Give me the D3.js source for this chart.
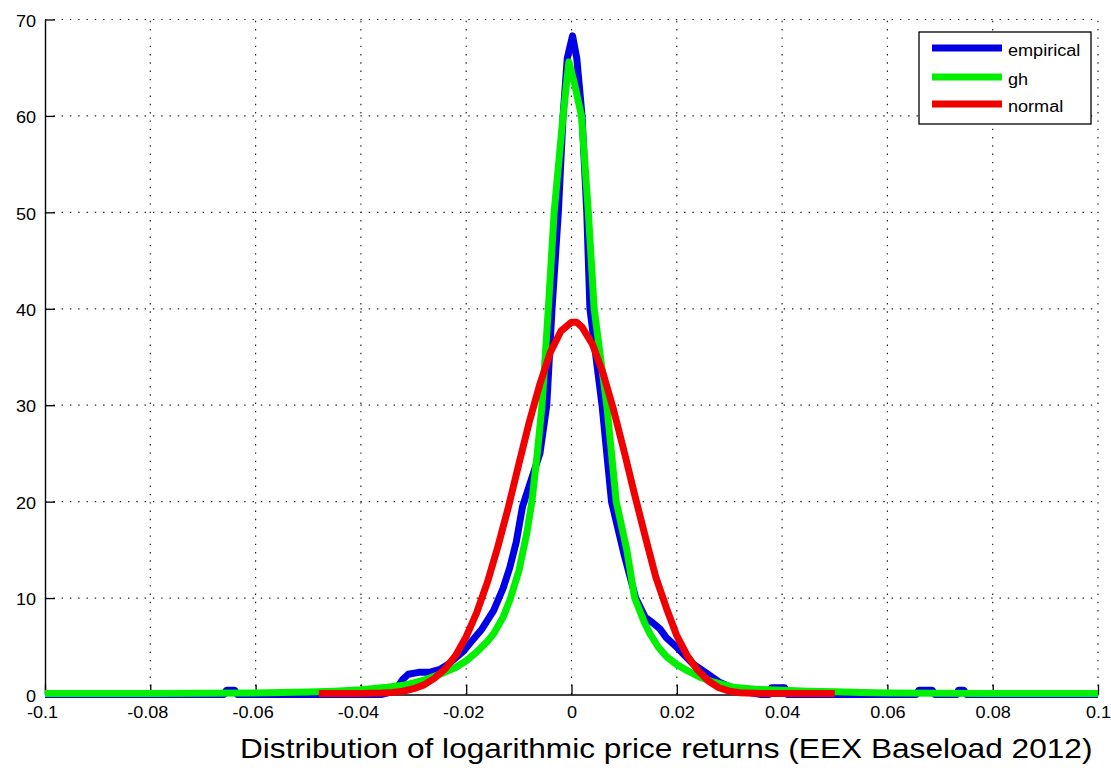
<!DOCTYPE html>
<html><head><meta charset="utf-8">
<script src="https://cdn.jsdelivr.net/npm/d3@7"></script>
<style>html,body{margin:0;padding:0;background:#fff;} svg{display:block;}</style>
</head><body>
<svg id="c" width="1111" height="768"></svg>
<script>
// ---- data ----
const xTicks = [-0.1, -0.08, -0.06, -0.04, -0.02, 0, 0.02, 0.04, 0.06, 0.08, 0.1];
const xTickLabels = ["-0.1", "-0.08", "-0.06", "-0.04", "-0.02", "0", "0.02", "0.04", "0.06", "0.08", "0.1"];
const yTicks = [0, 10, 20, 30, 40, 50, 60, 70];
const yTickLabels = ["0", "10", "20", "30", "40", "50", "60", "70"];
const seriesNames = ["empirical", "gh", "normal"];
const seriesColors = ["#0000e6", "#00f000", "#f00000"];
const titleText = "Distribution of logarithmic price returns (EEX Baseload 2012)";

const empirical = [
  [-0.1, 0], [-0.066, 0], [-0.0655, 0.45], [-0.064, 0.45], [-0.0635, 0], [-0.036, 0],
  [-0.034, 0.3], [-0.033, 0.8], [-0.032, 1.6], [-0.031, 2.1], [-0.029, 2.3], [-0.027, 2.3],
  [-0.025, 2.6], [-0.0235, 3.1], [-0.022, 3.8], [-0.0205, 4.5], [-0.0193, 5.3], [-0.017, 6.8],
  [-0.0148, 8.7], [-0.013, 11], [-0.0117, 13.2], [-0.0105, 15.8], [-0.0093, 19.5],
  [-0.006, 25], [-0.0047, 30], [-0.0037, 40], [-0.0025, 50], [-0.0016, 60], [-0.0008, 66],
  [0.0002, 68.3], [0.001, 66], [0.002, 60], [0.0029, 50], [0.0035, 40], [0.0058, 30],
  [0.0076, 20], [0.01, 14.5], [0.0122, 10], [0.014, 8.0], [0.0155, 7.4], [0.0168, 6.8],
  [0.018, 5.9], [0.02, 4.9], [0.023, 3.2], [0.0257, 2.2], [0.028, 1.3], [0.03, 0.8],
  [0.033, 0.3], [0.036, 0], [0.0375, 0], [0.038, 0.7], [0.0405, 0.7], [0.041, 0],
  [0.0655, 0], [0.066, 0.45], [0.0685, 0.45], [0.069, 0], [0.0733, 0], [0.0735, 0.45],
  [0.0745, 0.45], [0.075, 0], [0.1, 0]
];

const gh = [
  [-0.1, 0.1], [-0.08, 0.1], [-0.07, 0.12], [-0.06, 0.15], [-0.055, 0.2], [-0.05, 0.25],
  [-0.045, 0.35], [-0.04, 0.5], [-0.035, 0.75], [-0.032, 0.95], [-0.03, 1.2], [-0.028, 1.5],
  [-0.025, 2.1], [-0.022, 2.8], [-0.02, 3.5], [-0.018, 4.4], [-0.016, 5.5], [-0.0148, 6.3],
  [-0.013, 8.0], [-0.0117, 9.8], [-0.01, 12.8], [-0.0085, 16.7], [-0.0075, 20.1], [-0.0065, 25],
  [-0.0056, 30], [-0.0044, 40], [-0.0033, 50], [-0.0016, 60], [-0.0005, 65.6], [0.0005, 63.5],
  [0.0019, 60], [0.0032, 50], [0.0043, 40], [0.0067, 30], [0.0085, 20], [0.0105, 15],
  [0.012, 10], [0.0139, 7.4], [0.0149, 6.3], [0.0165, 4.9], [0.0181, 3.9], [0.02, 3.1],
  [0.0219, 2.5], [0.0244, 1.8], [0.0269, 1.3], [0.0307, 0.76], [0.035, 0.55], [0.04, 0.45],
  [0.045, 0.35], [0.05, 0.28], [0.055, 0.2], [0.06, 0.15], [0.08, 0.1], [0.1, 0.1]
];

const normal = [
  [-0.048, 0.1], [-0.04, 0.1], [-0.036, 0.15], [-0.034, 0.22], [-0.032, 0.34], [-0.03, 0.6],
  [-0.028, 1.0], [-0.026, 1.7], [-0.024, 2.65], [-0.022, 4.05], [-0.02, 6.0], [-0.018, 8.5],
  [-0.016, 11.6], [-0.014, 15.3], [-0.012, 19.4], [-0.01, 23.9], [-0.008, 28.3], [-0.006, 32.2],
  [-0.004, 35.5], [-0.002, 37.7], [0, 38.6], [0.001, 38.6], [0.002, 38.1], [0.004, 36.3],
  [0.006, 33.3], [0.008, 29.5], [0.01, 25.2], [0.012, 20.7], [0.014, 16.4], [0.016, 12.2],
  [0.018, 9.0], [0.02, 6.1], [0.022, 4.0], [0.024, 2.5], [0.026, 1.4], [0.028, 0.7],
  [0.03, 0.35], [0.032, 0.18], [0.036, 0.1], [0.05, 0.1]
];

const seriesData = [empirical, gh, normal];

// ---- drawing ----
const svg = d3.select("#c");
const FONT = "'Liberation Sans', Arial, Helvetica, sans-serif";
const SX = 1.13;

const x = d3.scaleLinear().domain([-0.1, 0.1]).range([45, 1098]);
const y = d3.scaleLinear().domain([0, 70]).range([694.5, 19.5]);

svg.append("rect").attr("width", 1111).attr("height", 768).attr("fill", "#fff");

// grid
const grid = svg.append("g").attr("stroke", "#222").attr("stroke-width", 1.2)
  .attr("stroke-dasharray", "1.4 6.9").attr("fill", "none");
yTicks.filter(v => v > 0).forEach(v => {
  grid.append("line").attr("x1", x(-0.1)).attr("x2", x(0.1)).attr("y1", y(v)).attr("y2", y(v));
});
xTicks.filter(v => v > -0.1).forEach(v => {
  grid.append("line").attr("x1", x(v)).attr("x2", x(v)).attr("y1", y(0)).attr("y2", y(70));
});

// axes
const xAxis = d3.axisBottom(x).tickValues(xTicks)
  .tickFormat((d, i) => xTickLabels[i]).tickSizeInner(-10).tickSizeOuter(0).tickPadding(12.6);
const gx = svg.append("g").attr("transform", `translate(0,${y(0)})`).call(xAxis);
const yAxis = d3.axisLeft(y).tickValues(yTicks)
  .tickFormat((d, i) => yTickLabels[i]).tickSizeInner(-10).tickSizeOuter(0).tickPadding(9);
const gy = svg.append("g").attr("transform", `translate(${x(-0.1)},0)`).call(yAxis);

[gx, gy].forEach(g => {
  g.select(".domain").attr("stroke", "#000").attr("stroke-width", 1.4);
  g.selectAll(".tick line").attr("stroke", "#000").attr("stroke-width", 1.3);
  g.selectAll(".tick text").attr("fill", "#000").attr("font-family", FONT).attr("font-size", 16);
});
gx.selectAll(".tick text")
  .attr("transform", `scale(${SX},1)`)
  .attr("dx", (d) => d < 0 ? -3 / SX : 0);
gy.selectAll(".tick text")
  .attr("x", -9 / SX).attr("dy", "0.42em")
  .attr("transform", `scale(${SX},1)`);

// curves
const line = d3.line().x(d => x(d[0])).y(d => y(d[1]));
seriesData.forEach((data, i) => {
  svg.append("path").datum(data).attr("d", line)
    .attr("fill", "none").attr("stroke", seriesColors[i]).attr("stroke-width", 7)
    .attr("stroke-linejoin", "round").attr("stroke-linecap", "butt");
});

// legend
const lg = svg.append("g");
lg.append("rect").attr("x", 919).attr("y", 32).attr("width", 172).attr("height", 92)
  .attr("fill", "#fff").attr("stroke", "#000").attr("stroke-width", 1.3);
const legendY = [48, 77, 104];
seriesNames.forEach((name, i) => {
  lg.append("line").attr("x1", 932).attr("x2", 1002).attr("y1", legendY[i]).attr("y2", legendY[i])
    .attr("stroke", seriesColors[i]).attr("stroke-width", 7);
  lg.append("text").attr("transform", `translate(1008,${legendY[i] + 7.5}) scale(${SX},1)`)
    .attr("font-family", FONT).attr("font-size", 16).attr("fill", "#000").text(name);
});

// title
svg.append("text").attr("transform", `translate(240,758) scale(${SX},1)`)
  .attr("font-family", FONT).attr("font-size", 28).attr("fill", "#000").text(titleText);
</script>
</body></html>
